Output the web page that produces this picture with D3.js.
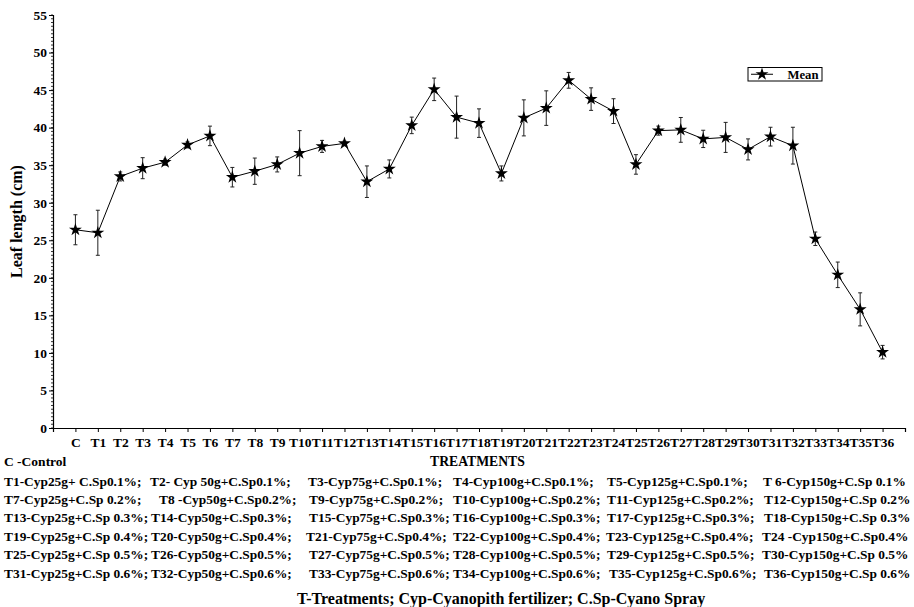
<!DOCTYPE html>
<html>
<head>
<meta charset="utf-8">
<script src="https://cdn.jsdelivr.net/npm/d3@7"></script>
<style>
  body { margin: 0; background: #fff; }
  svg text { font-family: "Liberation Serif", "Times New Roman", serif; font-weight: bold; fill: #000; }
</style>
</head>
<body>
<div id="chart"></div>
<script>
// Data
let treatments = ["C", "T1", "T2", "T3", "T4", "T5", "T6", "T7", "T8", "T9", "T10", "T11", "T12",
  "T13", "T14", "T15", "T16", "T17", "T18", "T19", "T20", "T21", "T22", "T23", "T24",
  "T25", "T26", "T27", "T28", "T29", "T30", "T31", "T32", "T33", "T34", "T35", "T36"];
let meanValues = [26.4, 26.0, 33.5, 34.6, 35.4, 37.7, 38.9, 33.4, 34.2, 35.1, 36.6, 37.5, 37.9,
  32.8, 34.5, 40.3, 45.1, 41.4, 40.6, 33.9, 41.3, 42.6, 46.3, 43.8, 42.2,
  35.1, 39.6, 39.7, 38.5, 38.7, 37.1, 38.8, 37.6, 25.2, 20.4, 15.8, 10.1];
let errValues = [2.0, 3.0, 0.6, 1.4, 0.4, 0.4, 1.3, 1.3, 1.75, 1.0, 3.0, 0.8, 0.3,
  2.1, 1.2, 1.1, 1.5, 2.8, 1.9, 1.0, 2.4, 2.3, 1.05, 1.5, 1.65,
  1.3, 0.6, 1.65, 1.15, 2.0, 1.4, 1.25, 2.45, 0.9, 1.7, 2.2, 0.9];
let yTicks = [0, 5, 10, 15, 20, 25, 30, 35, 40, 45, 50, 55];

let footRows = [
  ["T1-Cyp25g+ C.Sp0.1%;", "T2- Cyp 50g+C.Sp0.1%;", "T3-Cyp75g+C.Sp0.1%;", "T4-Cyp100g+C.Sp0.1%;", "T5-Cyp125g+C.Sp0.1%;", "T 6-Cyp150g+C.Sp 0.1%"],
  ["T7-Cyp25g+C.Sp 0.2%;", "T8 -Cyp50g+C.Sp0.2%;", "T9-Cyp75g+C.Sp0.2%;", "T10-Cyp100g+C.Sp0.2%;", "T11-Cyp125g+C.Sp0.2%;", "T12-Cyp150g+C.Sp 0.2%"],
  ["T13-Cyp25g+C.Sp 0.3%;", "T14-Cyp50g+C.Sp0.3%;", "T15-Cyp75g+C.Sp0.3%;", "T16-Cyp100g+C.Sp0.3%;", "T17-Cyp125g+C.Sp0.3%;", "T18-Cyp150g+C.Sp 0.3%"],
  ["T19-Cyp25g+C.Sp 0.4%;", "T20-Cyp50g+C.Sp0.4%;", "T21-Cyp75g+C.Sp0.4%;", "T22-Cyp100g+C.Sp0.4%;", "T23-Cyp125g+C.Sp0.4%;", "T24 -Cyp150g+C.Sp0.4%"],
  ["T25-Cyp25g+C.Sp 0.5%;", "T26-Cyp50g+C.Sp0.5%;", "T27-Cyp75g+C.Sp0.5%;", "T28-Cyp100g+C.Sp0.5%;", "T29-Cyp125g+C.Sp0.5%;", "T30-Cyp150g+C.Sp 0.5%"],
  ["T31-Cyp25g+C.Sp 0.6%;", "T32-Cyp50g+C.Sp0.6%;", "T33-Cyp75g+C.Sp0.6%;", "T34-Cyp100g+C.Sp0.6%;", "T35-Cyp125g+C.Sp0.6%;", "T36-Cyp150g+C.Sp 0.6%"]
];

// layout of the footnote columns (per row)
let footColX = [
  [4, 150, 308, 453, 607, 763],
  [4, 159, 309, 453, 607, 764],
  [4, 151, 309, 453, 607, 764],
  [4, 151, 306, 453, 606, 762],
  [4, 151, 309, 453, 607, 762],
  [4, 151, 309, 453, 609, 764]
];

let width = 914, height = 607;
let plotLeft = 53, plotRight = 905, plotTop = 15, plotBottom = 428;

let svg = d3.select('#chart').append('svg')
  .attr('width', width).attr('height', height);

let x = d3.scalePoint().domain(treatments).range([plotLeft, plotRight]).padding(1);
let y = d3.scaleLinear().domain([0, 55]).range([plotBottom, plotTop]);

// minor ticks on y axis
let minor = d3.range(0, 55.01, 0.5);
svg.append('g').selectAll('line.minor')
  .data(minor).enter().append('line')
  .attr('x1', plotLeft - 2).attr('x2', plotLeft)
  .attr('y1', d => y(d)).attr('y2', d => y(d))
  .attr('stroke', '#000').attr('stroke-width', 0.8);

// y axis
let yAxis = svg.append('g')
  .attr('transform', 'translate(' + plotLeft + ',0)')
  .call(d3.axisLeft(y).tickValues(yTicks).tickSize(4).tickPadding(2));
yAxis.select('.domain').attr('stroke-width', 1.2);
yAxis.selectAll('text').style('font-size', '13.5px');

// x axis
let xAxis = svg.append('g')
  .attr('transform', 'translate(0,' + plotBottom + ')')
  .call(d3.axisBottom(x).tickSize(4).tickSizeOuter(4).tickPadding(5));
xAxis.select('.domain').attr('stroke-width', 1.2);
xAxis.selectAll('text').style('font-size', '13.5px');

// y label
svg.append('text')
  .attr('transform', 'translate(22,' + ((plotTop + plotBottom) / 2) + ') rotate(-90)')
  .attr('text-anchor', 'middle')
  .style('font-size', '16px')
  .text('Leaf length (cm)');

// error bars
let eb = svg.append('g').selectAll('g.err')
  .data(treatments).enter().append('g');
eb.append('line')
  .attr('x1', d => x(d)).attr('x2', d => x(d))
  .attr('y1', (d, i) => y(meanValues[i] - errValues[i]))
  .attr('y2', (d, i) => y(meanValues[i] + errValues[i]))
  .attr('stroke', '#222').attr('stroke-width', 1);
eb.append('line')
  .attr('x1', d => x(d) - 2).attr('x2', d => x(d) + 2)
  .attr('y1', (d, i) => y(meanValues[i] + errValues[i]))
  .attr('y2', (d, i) => y(meanValues[i] + errValues[i]))
  .attr('stroke', '#222').attr('stroke-width', 1);
eb.append('line')
  .attr('x1', d => x(d) - 2).attr('x2', d => x(d) + 2)
  .attr('y1', (d, i) => y(meanValues[i] - errValues[i]))
  .attr('y2', (d, i) => y(meanValues[i] - errValues[i]))
  .attr('stroke', '#222').attr('stroke-width', 1);

// mean line
let line = d3.line()
  .x((d, i) => x(treatments[i]))
  .y(d => y(d));
svg.append('path')
  .datum(meanValues)
  .attr('d', line)
  .attr('fill', 'none')
  .attr('stroke', '#000')
  .attr('stroke-width', 1);

// star markers
let star = d3.symbol().type(d3.symbolStar).size(52);
svg.append('g').selectAll('path.star')
  .data(meanValues).enter().append('path')
  .attr('class', 'star')
  .attr('d', star)
  .attr('transform', (d, i) => 'translate(' + x(treatments[i]) + ',' + y(d) + ')')
  .attr('fill', '#000');

// legend
let lg = svg.append('g').attr('transform', 'translate(748,67.5)');
lg.append('rect').attr('width', 74).attr('height', 13.5)
  .attr('fill', '#fff').attr('stroke', '#000').attr('stroke-width', 1);
lg.append('line').attr('x1', 3).attr('x2', 25).attr('y1', 6.75).attr('y2', 6.75)
  .attr('stroke', '#000');
lg.append('path').attr('d', star)
  .attr('transform', 'translate(14,6.75)').attr('fill', '#000');
lg.append('text').attr('x', 39.5).attr('y', 11)
  .style('font-size', '12.7px').text('Mean');

// titles and notes
svg.append('text').attr('x', 430).attr('y', 466)
  .style('font-size', '13.7px').text('TREATMENTS');
svg.append('text').attr('x', 4).attr('y', 466)
  .style('font-size', '13.5px').text('C -Control');

footRows.forEach((row, r) => {
  svg.append('g').selectAll('text')
    .data(row).enter().append('text')
    .attr('x', (d, i) => footColX[r][i])
    .attr('y', 485.5 + r * 18.4)
    .style('font-size', '13.4px')
    .text(d => d);
});

svg.append('text').attr('x', 297).attr('y', 604)
  .style('font-size', '16px')
  .text('T-Treatments; Cyp-Cyanopith fertilizer; C.Sp-Cyano Spray');
</script>
</body>
</html>
